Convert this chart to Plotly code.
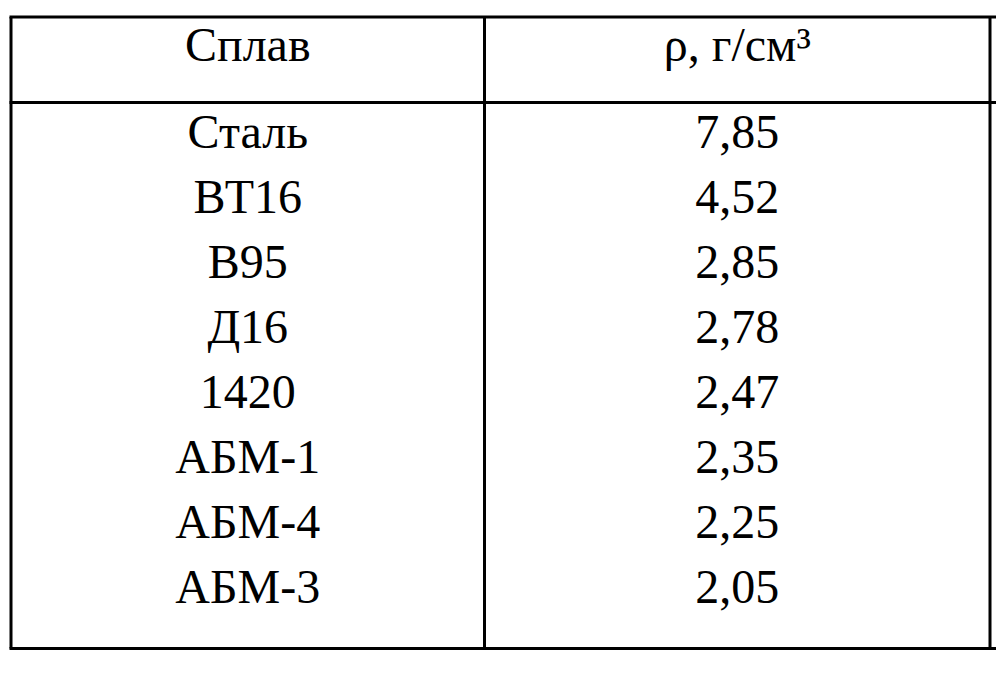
import plotly.graph_objects as go

# Data from the table
alloys = ['Сталь', 'ВТ16', 'В95', 'Д16', '1420', 'АБМ-1', 'АБМ-4', 'АБМ-3']
density = [7.85, 4.52, 2.85, 2.78, 2.47, 2.35, 2.25, 2.05]
headers = ['Сплав', 'ρ, г/см³']

W, H = 1004, 677
FONT = 'Liberation Serif'
OFF = 8  # page body margin in front of the plot div

# pixel layout of the grid (in screen pixels, shifted by page offset)
left, col_sep, right_sep = 11 - OFF, 484.5 - OFF, 990 - OFF
top, head_bot, bottom = 17 - OFF, 102.5 - OFF, 648.5 - OFF

density_txt = [f'{v:.2f}'.replace('.', ',') for v in density]

fig = go.Figure()

fig.add_trace(go.Table(
    domain=dict(x=[left / W, right_sep / W], y=[0, 1 - top / H]),
    columnwidth=[col_sep - left, right_sep - col_sep],
    header=dict(
        values=headers,
        height=87,
        align='center',
        font=dict(family=FONT, size=48, color='black'),
        fill=dict(color='white'),
        line=dict(color='rgba(0,0,0,0)', width=0),
    ),
    cells=dict(
        values=[alloys, density_txt],
        height=65,
        align='center',
        font=dict(family=FONT, size=48, color='black'),
        fill=dict(color='white'),
        line=dict(color='rgba(0,0,0,0)', width=0),
    ),
))


def px_x(v):
    return v / W


def px_y(v):
    return 1 - v / H


line_style = dict(color='black', width=3)
# horizontal rules
for y in [top, head_bot, bottom]:
    fig.add_shape(type='line', xref='paper', yref='paper',
                  x0=px_x(left - 1.5), x1=1, y0=px_y(y), y1=px_y(y), line=line_style)
# vertical rules
for x in [left, col_sep, right_sep]:
    fig.add_shape(type='line', xref='paper', yref='paper',
                  x0=px_x(x), x1=px_x(x), y0=px_y(top), y1=px_y(bottom), line=line_style)

fig.update_layout(
    width=W, height=H,
    margin=dict(l=0, r=0, t=0, b=0),
    paper_bgcolor='white',
    plot_bgcolor='white',
)

fig.write_html('out.html')
